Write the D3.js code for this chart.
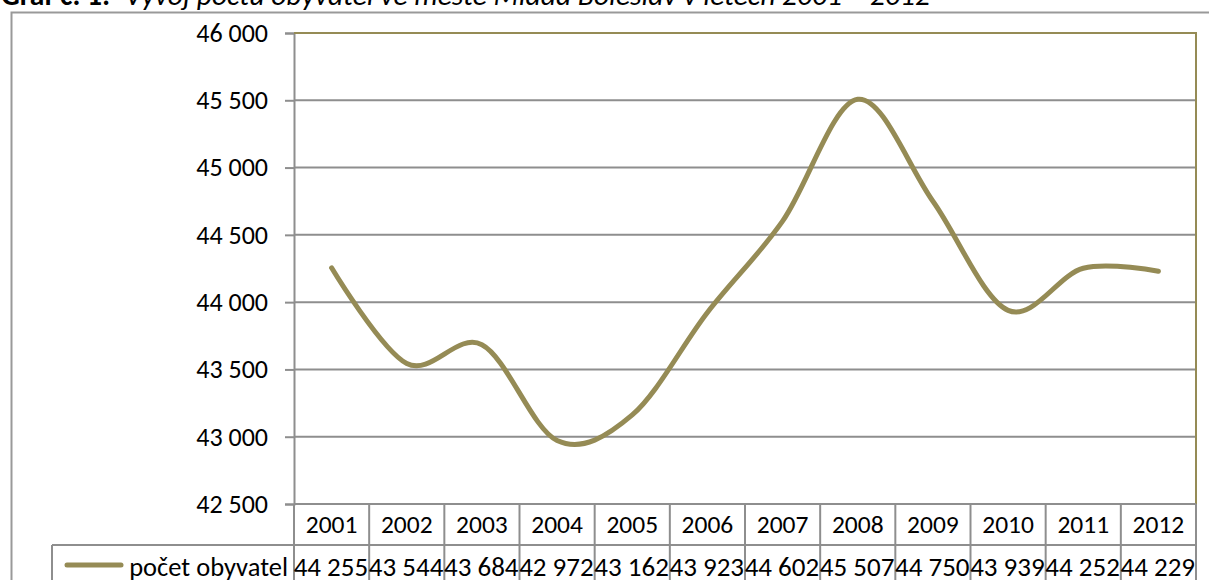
<!DOCTYPE html>
<html>
<head>
<meta charset="utf-8">
<script src="https://cdn.jsdelivr.net/npm/d3@7"></script>
<style>
  html, body { margin: 0; padding: 0; background: #fff; overflow: hidden; }
  svg { display: block; }
  text { font-family: Carlito, Calibri, "Open Sans", sans-serif; fill: #000; }
</style>
</head>
<body>
<svg id="chart" width="1209" height="580"></svg>
<script>
// ---- data ----
const years = ["2001","2002","2003","2004","2005","2006","2007","2008","2009","2010","2011","2012"];
const population = [44255, 43544, 43684, 42972, 43162, 43923, 44602, 45507, 44750, 43939, 44252, 44229];
const seriesName = "počet obyvatel";
const yTicks = [42500, 43000, 43500, 44000, 44500, 45000, 45500, 46000];
const titleBold = "Graf č. 1:";
const titleItalic = "Vývoj počtu obyvatel ve městě Mladá Boleslav v letech 2001 – 2012";

(function () {
const olive = "#958b55";
const grid = "#8e8e8e";
const fmt = v => d3.format(",")(v).replace(/,/g, " ");

const svg = d3.select("#chart");
const pL = 294, pR = 1196, pT = 33, pB = 504;
const row1 = 545;

const x = d3.scaleBand().domain(years).range([pL, pR]);
const y = d3.scaleLinear().domain([42500, 46000]).range([pB, pT]);

// title (clipped at the top)
svg.append("text").attr("x", 1).attr("y", 5)
  .style("font-size", "29.5px").style("font-weight", "bold").text(titleBold);
svg.append("text").attr("x", 125).attr("y", 5)
  .attr("textLength", 805).attr("lengthAdjust", "spacing")
  .style("font-size", "29.5px").style("font-style", "italic").text(titleItalic);

// outer chart border
svg.append("rect").attr("x", 11.5).attr("y", 12.5).attr("width", 1230).attr("height", 600)
  .attr("fill", "none").attr("stroke", "#999").attr("stroke-width", 2);

// gridlines
svg.append("g").selectAll("line").data(yTicks.filter(d => d !== 46000 && d !== 42500)).join("line")
  .attr("x1", pL).attr("x2", pR)
  .attr("y1", d => y(d)).attr("y2", d => y(d))
  .attr("stroke", grid).attr("stroke-width", 2);

// y axis
const yAxis = d3.axisLeft(y).tickValues(yTicks).tickSize(9).tickPadding(17).tickFormat(fmt);
const ga = svg.append("g").attr("transform", `translate(${pL},0)`).call(yAxis);
ga.select(".domain").attr("stroke", grid).attr("stroke-width", 2);
ga.selectAll(".tick line").attr("stroke", grid).attr("stroke-width", 2);
ga.selectAll(".tick text").style("font-size", "26px").style("font-family", "Carlito, Calibri, 'Open Sans', sans-serif").attr("fill", "#000");

// plot-area border top/right (olive)
svg.append("path")
  .attr("d", `M${pL},${pT}H${pR}V${pB}`)
  .attr("fill", "none").attr("stroke", olive).attr("stroke-width", 2);

// bottom line of plot
svg.append("line").attr("x1", pL).attr("x2", pR).attr("y1", pB).attr("y2", pB)
  .attr("stroke", grid).attr("stroke-width", 2);

// data table
const tbl = svg.append("g");
tbl.append("line").attr("x1", 52).attr("x2", pR).attr("y1", row1).attr("y2", row1)
  .attr("stroke", grid).attr("stroke-width", 2);
tbl.append("line").attr("x1", 52).attr("x2", 52).attr("y1", row1).attr("y2", 600)
  .attr("stroke", grid).attr("stroke-width", 2);
tbl.selectAll("line.col").data(years.concat(["end"])).join("line").attr("class", "col")
  .attr("x1", (d, i) => i < years.length ? x(d) : pR)
  .attr("x2", (d, i) => i < years.length ? x(d) : pR)
  .attr("y1", pB).attr("y2", 600)
  .attr("stroke", grid).attr("stroke-width", 2);

tbl.selectAll("text.yr").data(years).join("text").attr("class", "yr")
  .attr("x", d => x(d) + x.bandwidth() / 2).attr("y", 533)
  .attr("text-anchor", "middle").style("font-size", "25.5px").text(d => d);

tbl.selectAll("text.val").data(population).join("text").attr("class", "val")
  .attr("x", (d, i) => x(years[i]) + x.bandwidth() - 1).attr("y", 576)
  .attr("text-anchor", "end").style("font-size", "27px").text(d => fmt(d));

// legend key
tbl.append("line").attr("x1", 67).attr("x2", 121).attr("y1", 565).attr("y2", 565)
  .attr("stroke", olive).attr("stroke-width", 5).attr("stroke-linecap", "round");
tbl.append("text").attr("x", 288).attr("y", 576).attr("text-anchor", "end")
  .style("font-size", "26.5px").text(seriesName);

// series line
const line = d3.line()
  .x((d, i) => x(years[i]) + x.bandwidth() / 2)
  .y(d => y(d))
  .curve(d3.curveCatmullRom.alpha(0));
svg.append("path").datum(population)
  .attr("d", line).attr("fill", "none")
  .attr("stroke", olive).attr("stroke-width", 5)
  .attr("stroke-linecap", "round").attr("stroke-linejoin", "round");
})();
</script>
</body>
</html>
